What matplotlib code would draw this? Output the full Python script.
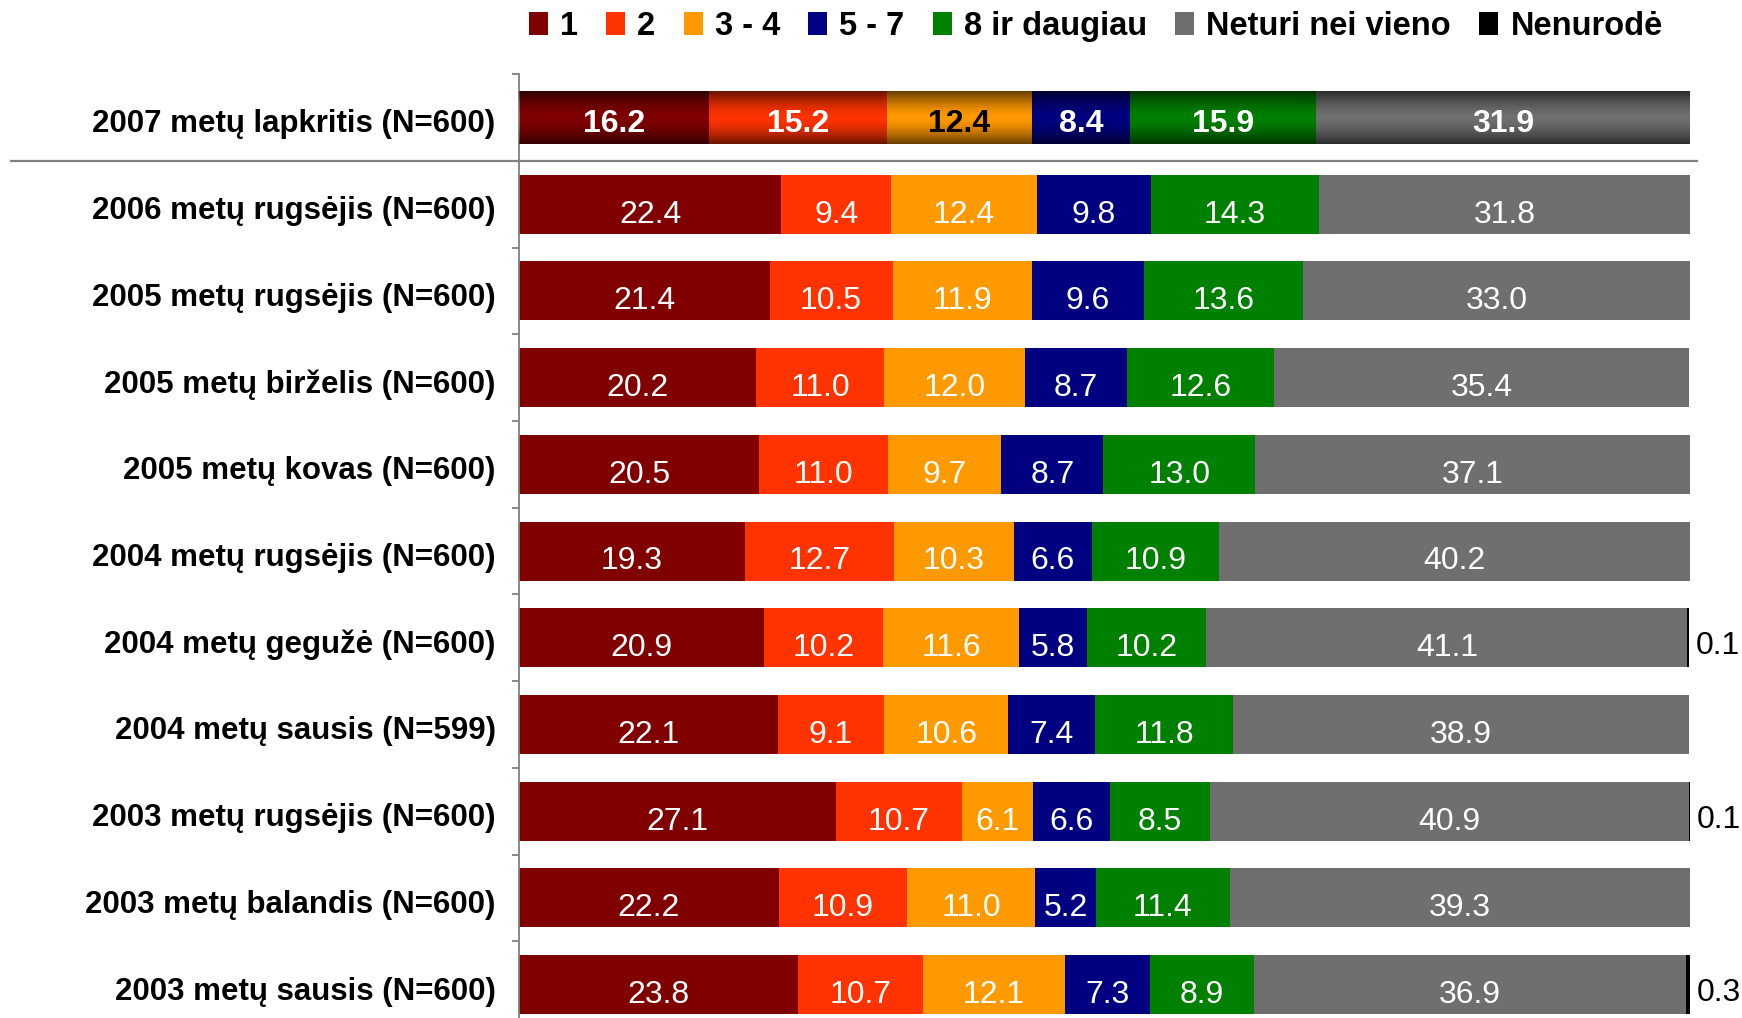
import matplotlib.pyplot as plt
import numpy as np
from matplotlib.transforms import blended_transform_factory

periods = ['2007 metų lapkritis (N=600)', '2006 metų rugsėjis (N=600)',
           '2005 metų rugsėjis (N=600)', '2005 metų birželis (N=600)',
           '2005 metų kovas (N=600)', '2004 metų rugsėjis (N=600)',
           '2004 metų gegužė (N=600)', '2004 metų sausis (N=599)',
           '2003 metų rugsėjis (N=600)', '2003 metų balandis (N=600)',
           '2003 metų sausis (N=600)']
series = ['1', '2', '3 - 4', '5 - 7', '8 ir daugiau', 'Neturi nei vieno', 'Nenurodė']
one = [16.2, 22.4, 21.4, 20.2, 20.5, 19.3, 20.9, 22.1, 27.1, 22.2, 23.8]
two = [15.2, 9.4, 10.5, 11.0, 11.0, 12.7, 10.2, 9.1, 10.7, 10.9, 10.7]
three_four = [12.4, 12.4, 11.9, 12.0, 9.7, 10.3, 11.6, 10.6, 6.1, 11.0, 12.1]
five_seven = [8.4, 9.8, 9.6, 8.7, 8.7, 6.6, 5.8, 7.4, 6.6, 5.2, 7.3]
eight_plus = [15.9, 14.3, 13.6, 12.6, 13.0, 10.9, 10.2, 11.8, 8.5, 11.4, 8.9]
none_at_all = [31.9, 31.8, 33.0, 35.4, 37.1, 40.2, 41.1, 38.9, 40.9, 39.3, 36.9]
no_answer = [0, 0, 0, 0, 0, 0, 0.1, 0, 0.1, 0, 0.3]
colors = ['#800000', '#FF3300', '#FF9900', '#000080', '#008000', '#6F6F6F', '#000000']

data = np.array([one, two, three_four, five_seven, eight_plus, none_at_all, no_answer])
y = np.arange(len(periods))
heights = [0.61] + [0.68] * (len(periods) - 1)

plt.rcParams['font.family'] = ['Liberation Sans', 'DejaVu Sans']

fig = plt.figure(figsize=(17.42, 10.18), dpi=100)
ax = fig.add_axes([0.298, -0.0098, 0.672, 0.937])

left = np.zeros(len(periods))
handles = []
for k, (name, vals, c) in enumerate(zip(series, data, colors)):
    h = ax.barh(y, vals, left=left, height=heights, color=c, label=name, zorder=2)
    handles.append(h)
    for i, v in enumerate(vals):
        if v <= 0:
            continue
        if k == len(series) - 1:
            ax.text(left[i] + v + 0.6, i + 0.1, f'{v:.1f}', ha='left', va='center',
                    fontsize=23, color='black')
        elif i == 0:
            tc = 'black' if k == 2 else 'white'
            ax.text(left[i] + v / 2, i + 0.07, f'{v:.1f}', ha='center', va='center',
                    fontsize=23, fontweight='bold', color=tc, zorder=5)
        else:
            ax.text(left[i] + v / 2, i + 0.12, f'{v:.1f}', ha='center', va='center',
                    fontsize=23, color='white', zorder=5)
    left += vals

# shaded look on the newest bar
t = np.linspace(0, 1, 80)
grad = np.zeros((80, 1, 4))
grad[:, 0, 3] = 0.6 * np.abs(2 * t - 1) ** 1.6
ax.imshow(grad, extent=(0, left[0], heights[0] / 2, -heights[0] / 2), aspect='auto',
          interpolation='bilinear', zorder=3)

ax.set_xlim(0, 100)
ax.set_ylim(len(periods) - 0.5, -0.5)

# separator under the newest survey
trans = blended_transform_factory(ax.transAxes, ax.transData)
ax.plot([-0.434, 1.006], [0.5, 0.5], color='#808080', lw=1.6, transform=trans,
        clip_on=False, zorder=4)

ax.set_yticks(y + 0.04)
ax.set_yticklabels(periods, fontsize=22.5, fontweight='bold')
ax.set_yticks(np.arange(len(periods) + 1) - 0.5, minor=True)
ax.tick_params(axis='y', which='major', length=0, pad=17)
ax.tick_params(axis='y', which='minor', length=5, color='#808080', width=1.3)
ax.set_xticks([])
for s in ['top', 'right', 'bottom']:
    ax.spines[s].set_visible(False)
ax.spines['left'].set_color('#808080')
ax.spines['left'].set_linewidth(1.3)

fig.legend(handles=handles, labels=series, loc='center', bbox_to_anchor=(0.629, 0.974),
           ncol=7, frameon=False, handlelength=0.58, handleheight=0.68,
           handletextpad=0.37, columnspacing=0.87,
           prop={'weight': 'bold', 'size': 23.5})

fig.savefig('out.png', dpi=100)
